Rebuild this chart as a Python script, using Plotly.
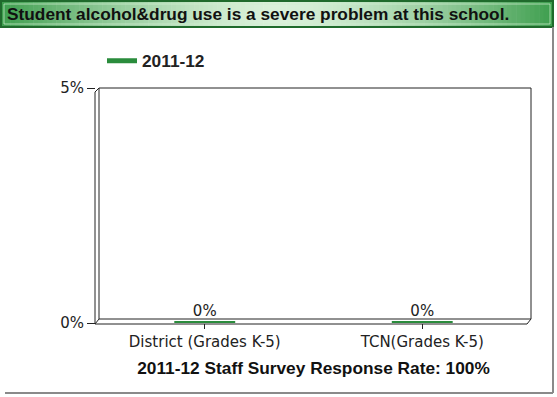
import plotly.graph_objects as go

# data
categories = ['District (Grades K-5)', 'TCN(Grades K-5)']
values_2011_12 = [0, 0]
series_name = '2011-12'
title_text = 'Student alcohol&drug use is a severe problem at this school.'
x_title = '2011-12 Staff Survey Response Rate: 100%'
y_ticks = [0, 5]

W, H = 557, 397
L, R, T, B = 96, 26, 88, 74
PW, PH = W - L - R, H - T - B


def px(x):
    return (x - L) / PW


def py(y):
    return (H - B - y) / PH


GREEN = '#2a8c3c'
BOLD_FONT = 'Liberation Sans, Arial, sans-serif'
TICK_FONT = 'DejaVu Sans, Verdana, sans-serif'

fig = go.Figure()

fig.add_trace(go.Bar(
    x=categories, y=values_2011_12, name=series_name,
    width=0.28, marker=dict(color=GREEN, line=dict(color=GREEN, width=4)),
    text=[f'{v}%' for v in values_2011_12], textposition='outside',
    textfont=dict(size=15, color='#222', family=TICK_FONT),
    cliponaxis=False, showlegend=False,
))
# legend entry drawn as a line like the original
fig.add_trace(go.Scatter(
    x=[None], y=[None], mode='lines', name=series_name,
    line=dict(color=GREEN, width=5),
))

shapes = []
# title banner with a horizontal gradient (darker edges, light middle)
n = 120
bx0, bx1, by0, by1 = 1, 553, 1, 27
edge = (62, 158, 78)
mid = (218, 241, 218)
step = (bx1 - bx0) / n
for i in range(n):
    t = abs((i + 0.5) / n - 0.5) * 2
    c = tuple(int(mid[k] + (edge[k] - mid[k]) * t ** 1.5) for k in range(3))
    shapes.append(dict(type='rect', xref='paper', yref='paper',
                       x0=px(bx0 + step * i), x1=px(bx0 + step * (i + 1) + 0.6),
                       y0=py(by1), y1=py(by0), line=dict(width=0),
                       fillcolor='rgb(%d,%d,%d)' % c, layer='below'))
shapes.append(dict(type='rect', xref='paper', yref='paper', x0=px(bx0), x1=px(bx1),
                   y0=py(by1), y1=py(by0), line=dict(color='#1f6a2c', width=2)))
shapes.append(dict(type='rect', xref='paper', yref='paper', x0=px(bx0 + 3), x1=px(bx1 - 3),
                   y0=py(by1 - 3), y1=py(by0 + 3), line=dict(color='rgba(210,240,210,0.7)', width=1)))

# outer frame (right and bottom)
shapes.append(dict(type='line', xref='paper', yref='paper', x0=px(553), x1=px(553),
                   y0=py(27), y1=py(393), line=dict(color='#8a8a8a', width=2)))
shapes.append(dict(type='line', xref='paper', yref='paper', x0=px(5), x1=px(553),
                   y0=py(393), y1=py(393), line=dict(color='#8a8a8a', width=2)))

# pseudo-3D plot box
box = dict(color='#222', width=1)
shapes.append(dict(type='rect', xref='paper', yref='paper', x0=px(99), x1=px(531),
                   y0=py(319), y1=py(88), line=box))
shapes.append(dict(type='line', xref='paper', yref='paper', x0=px(95), x1=px(95),
                   y0=py(92), y1=py(324), line=box))
shapes.append(dict(type='line', xref='paper', yref='paper', x0=px(95), x1=px(527),
                   y0=py(324), y1=py(324), line=box))
shapes.append(dict(type='line', xref='paper', yref='paper', x0=px(95), x1=px(99),
                   y0=py(92), y1=py(88), line=box))
shapes.append(dict(type='line', xref='paper', yref='paper', x0=px(527), x1=px(531),
                   y0=py(324), y1=py(319), line=box))
shapes.append(dict(type='line', xref='paper', yref='paper', x0=px(95), x1=px(99),
                   y0=py(324), y1=py(319), line=box))

fig.update_layout(
    width=W, height=H,
    margin=dict(l=L, r=R, t=T, b=B),
    paper_bgcolor='white', plot_bgcolor='white',
    font=dict(family=TICK_FONT, size=15, color='#222'),
    shapes=shapes,
    showlegend=True,
    legend=dict(orientation='h', x=px(102), y=py(61), xanchor='left', yanchor='middle',
                font=dict(size=17.3, color='#222', family=BOLD_FONT, weight='bold'),
                itemwidth=30, bgcolor='rgba(0,0,0,0)'),
    annotations=[dict(text='<b>' + title_text + '</b>', xref='paper', yref='paper',
                      x=px(258), y=py(14), xanchor='center', yanchor='middle',
                      showarrow=False,
                      font=dict(size=17.3, color='#111', family=BOLD_FONT))],
    xaxis=dict(showgrid=False, showline=False, zeroline=False, ticks='outside',
               ticklen=5, tickcolor='#222', tickfont=dict(size=15),
               title=dict(text='<b>' + x_title + '</b>', standoff=11,
                          font=dict(size=17.3, color='#111', family=BOLD_FONT))),
    yaxis=dict(range=[0, 5], tickvals=y_ticks, ticktext=[f'{v}%' for v in y_ticks],
               showgrid=False, showline=False, zeroline=False, ticks='outside',
               ticklen=8, tickcolor='#222', tickfont=dict(size=15)),
)

fig.write_html('out.html', config={'displayModeBar': False},
               post_script="document.body.style.margin='0px';")
